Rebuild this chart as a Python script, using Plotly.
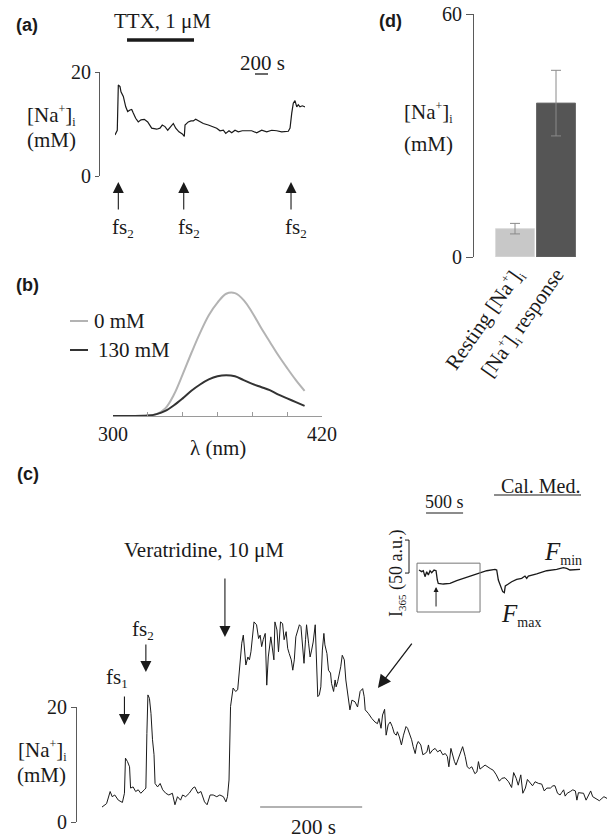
import plotly.graph_objects as go

W, H = 612, 838
def X(px): return px / W
def Y(py): return 1 - py / H

SERIF = "Liberation Serif, Times New Roman, serif"
SANS = "Liberation Sans, Arial, sans-serif"
INK = "#1a1a1a"
AXC = "#5a5a5a"

# ---------------- data ----------------
# (a) [Na+]i trace: (time s, mM)
A_TRACE = [(0,7.9),(35,8.8),(51,17.5),(77,17.2),(92,16.2),(128,15.3),(165,13.3),(195,12.4),(231,12.7),(257,12.8),
           (281,12.1),(318,11.1),(358,10.4),(400,10.8),(451,10.9),(503,10.4),(564,9.2),(641,9.0),(692,9.2),(727,9.8),
           (769,9.5),(811,8.8),(857,9.5),(897,10.1),(934,9.2),(984,8.5),(1035,8.1),(1066,7.6),(1077,9.8),(1103,10.1),
           (1127,10.4),(1169,10.6),(1204,10.6),(1241,10.9),(1281,10.6),(1358,10.1),(1435,9.8),(1496,9.5),(1564,9.2),(1615,8.7),
           (1666,8.8),(1703,8.2),(1753,8.7),(1795,8.3),(1846,8.8),(1896,8.5),(1958,8.7),(2026,8.7),(2102,8.7),(2179,8.3),
           (2256,8.8),(2333,8.5),(2410,8.8),(2487,8.7),(2564,8.5),(2665,8.6),(2692,9.2),(2718,12.1),(2742,14.0),(2768,14.5),
           (2795,13.3),(2819,13.7),(2845,13.3),(2881,13.5),(2922,13.3)]
A_STIM_TIMES = [51, 1057, 2707]
A_TTX_PERIOD = [185, 1215]
A_SCALEBAR_S = [2153, 2353]

# (b) excitation spectra
B_WAVELENGTH = [300, 310, 320, 325, 330, 335, 340, 345, 350, 355, 360, 365, 370, 375, 380, 385, 390, 395, 400, 405, 410]
B_0MM = [0, 0, 0.3, 1.5, 6, 17, 33, 50, 66, 80, 90, 97, 97.5, 92, 82, 70, 59, 48, 38, 28.5, 20]
B_130MM = [0, 0, 0.3, 1.5, 4, 8.5, 14, 20, 25, 29, 31.5, 32.3, 31.5, 28.5, 25.5, 23, 20.5, 17, 14, 11, 8]
B_NAMES = ["0 mM", "130 mM"]
B_TICKS = [300, 320, 340, 360, 380, 400, 420]
B_TICKTEXT = ["300", "", "", "", "", "", "420"]

# (c) main [Na+]i trace: (time s, mM)
C_TRACE = [(0,2.6),(9,3.2),(16,5.3),(20,4.4),(25,4.7),(32,3.8),(40,3.4),(44,5.0),(46,11.1),(50,10.5),(54,9.6),(56,5.9),
           (61,6.1),(66,5.3),(71,5.6),(76,5.0),(83,5.6),(86,5.9),(88,15.4),(90,22.1),(93,21.5),(96,18.9),(99,14.3),(102,11.7),
           (104,6.7),(109,6.1),(114,6.7),(119,5.6),(125,5.0),(131,4.7),(138,5.0),(143,3.0),(148,4.4),(154,3.8),(158,4.7),
           (164,4.4),(171,5.0),(178,5.9),(182,6.1),(188,5.0),(194,5.3),(201,3.5),(206,3.0),(212,4.7),(218,4.7),(225,4.4),
           (231,4.7),(238,4.4),(243,3.5),(246,4.4),(249,7.3),(252,20.1),(257,23.3),(262,22.7),(266,23.0),(269,25.9),
           (272,28.7),(274,31.1),(277,32.5),(279,29.9),(282,27.3),(286,28.7),(289,28.2),(292,29.6),(295,31.7),(298,34.8),
           (303,34.3),(307,31.9),(310,32.5),(313,30.5),(316,31.7),(320,32.8),(323,23.8),(326,28.7),(331,32.2),(334,30.5),
           (337,28.2),(339,34.8),(343,33.4),(346,29.6),(350,34.8),(354,34.5),(357,31.7),(361,33.1),(364,30.2),(367,29.3),
           (371,28.2),(374,26.4),(377,28.2),(380,32.2),(384,33.4),(387,34.3),(390,34.0),(394,29.3),(396,27.6),(399,31.7),
           (401,34.3),(405,31.1),(408,28.7),(411,29.9),(414,31.3),(418,34.3),(421,26.4),(423,21.8),(426,22.1),(429,23.5),
           (432,29.9),(435,32.8),(437,30.8),(441,29.3),(444,26.4),(448,25.9),(450,24.1),(454,22.7),(457,24.7),(459,23.5),
           (462,24.4),(465,25.6),(468,27.0),(471,29.0),(475,28.2),(478,24.7),(481,22.4),(484,20.9),(486,19.5),(490,21.2),
           (496,20.9),(501,20.0),(506,22.7),(511,23.2),(514,21.8),(516,19.5),(522,18.9),(529,18.0),(535,17.4),(540,17.1),
           (543,18.0),(547,16.3),(550,18.6),(554,19.6),(557,15.1),(561,16.9),(565,17.4),(569,16.6),(573,15.4),(577,15.1),
           (579,15.7),(583,14.8),(587,13.4),(591,15.1),(596,16.6),(599,16.3),(604,15.1),(607,14.3),(610,13.1),(614,11.9),
           (617,13.4),(620,14.0),(625,13.4),(629,11.7),(633,11.9),(637,12.2),(640,13.4),(643,11.9),(648,12.5),(653,12.8),
           (658,12.2),(663,12.5),(668,11.7),(673,11.9),(677,11.4),(680,9.6),(684,12.8),(688,11.4),(691,10.5),(694,9.9),
           (698,10.8),(702,11.7),(707,13.1),(712,11.4),(716,9.6),(720,9.3),(725,9.6),(728,9.0),(731,8.4),(735,8.7),
           (738,10.5),(741,9.2),(746,9.6),(751,9.9),(761,9.3),(767,9.0),(773,8.2),(779,7.1),(784,7.6),(790,7.7),
           (797,7.0),(803,6.0),(807,8.6),(812,7.6),(816,6.4),(821,8.2),(825,5.0),(830,5.9),(834,7.4),(839,6.8),
           (844,6.3),(849,7.0),(856,6.7),(862,6.6),(867,5.4),(872,5.9),(879,5.9),(884,6.3),(888,6.3),(893,5.0),
           (898,4.7),(901,5.1),(905,5.6),(908,4.5),(912,5.0),(918,5.3),(923,5.6),(928,5.4),(931,3.8),(934,5.1),
           (939,5.1),(944,5.0),(949,3.8),(954,4.7),(958,5.4),(962,4.4),(967,4.1),(971,3.9),(975,3.7),(980,4.1),
           (984,4.4),(990,4.1)]
C_FS1_T, C_FS2_T, C_VERA_T = 44, 86, 241
C_SCALEBAR_S = [310, 510]
C_POINTER = (541, 23.3)

# (c) inset: I365 fluorescence (time s, a.u.)
INSET_TRACE = [(0,63.6),(36,61.1),(58,62.6),(81,53.5),(104,61.1),(126,56.0),(149,62.6),(171,59.6),(203,63.6),(230,62.5),
               (247,48.5),(260,43.4),(328,42.4),(419,43.4),(509,47.4),(644,52.5),(779,57.6),(914,62.5),(1026,64.6),(1049,63.6),
               (1071,48.5),(1103,38.4),(1130,30.8),(1152,29.3),(1165,39.4),(1206,42.4),(1251,45.9),(1319,49.5),(1386,51.0),
               (1431,54.5),(1454,51.0),(1476,54.5),(1589,57.6),(1724,62.5),(1859,64.6),(1948,67.2),(1994,66.2),(2039,63.6),
               (2106,63.6),(2174,64.6)]
INSET_SCALEBAR_S = [95, 595]
INSET_CALMED = [1013, 2187]
INSET_BOX_T = [-27, 824]
INSET_BOX_AU = [0, 74]
INSET_SCALE_AU = [59, 109]
INSET_STIM = (230, 37.9)

def small(s, px):
    return f'<span style="font-size:{px}px">{s}</span>'

# (d) summary bars
D_CATS = [f"Resting [Na<sup>{small('+', 12)}</sup>]<sub>{small('i', 12)}</sub>",
          f"[Na<sup>{small('+', 12)}</sup>]<sub>{small('i', 12)}</sub> response"]
D_MEANS = [7.0, 38.0]
D_ERR = [1.3, 8.1]
D_COLORS = ["#c8c8c8", "#555555"]

NA = f"[Na<sup>{small('+', 12)}</sup>]<sub>{small('i', 12)}</sub>"

fig = go.Figure()

# (a)
fig.add_trace(go.Scatter(x=[p[0] for p in A_TRACE], y=[p[1] for p in A_TRACE], mode="lines",
                         line=dict(color=INK, width=1.2), xaxis="x", yaxis="y", showlegend=False))
# (b)
fig.add_trace(go.Scatter(x=B_WAVELENGTH, y=B_0MM, name=B_NAMES[0], mode="lines", line_shape="spline",
                         line=dict(color="#b3b3b3", width=2), xaxis="x2", yaxis="y2", showlegend=False))
fig.add_trace(go.Scatter(x=B_WAVELENGTH, y=B_130MM, name=B_NAMES[1], mode="lines", line_shape="spline",
                         line=dict(color="#333333", width=2), xaxis="x2", yaxis="y2", showlegend=False))
# (c) scale axis carrier
fig.add_trace(go.Scatter(x=[None], y=[None], mode="lines", xaxis="x3", yaxis="y5", showlegend=False, hoverinfo="skip"))
# (c) main
fig.add_trace(go.Scatter(x=[p[0] for p in C_TRACE], y=[p[1] for p in C_TRACE], mode="lines",
                         line=dict(color=INK, width=1), xaxis="x3", yaxis="y3", showlegend=False))
# (c) inset
fig.add_trace(go.Scatter(x=[p[0] for p in INSET_TRACE], y=[p[1] for p in INSET_TRACE], mode="lines",
                         line=dict(color=INK, width=1.3), xaxis="x4", yaxis="y4", showlegend=False))
# (d)
fig.add_trace(go.Bar(x=D_CATS, y=D_MEANS, marker=dict(color=D_COLORS, line=dict(color=["#dcdcdc", "#6a6a6a"], width=1)),
                     error_y=dict(type="data", array=D_ERR, color="#8a8a8a", thickness=1, width=5),
                     xaxis="x5", yaxis="y6", showlegend=False))

tickfont = dict(family=SERIF, size=20, color=INK)
hidden = dict(visible=False, showgrid=False, zeroline=False, automargin=False)

fig.update_layout(
    template="none",
    width=W, height=H, margin=dict(l=0, r=0, t=0, b=0, pad=0), autosize=False,
    paper_bgcolor="white", plot_bgcolor="rgba(0,0,0,0)",
    font=dict(family=SERIF, size=20, color=INK),
    bargap=0.05,
    xaxis=dict(domain=[X(115), X(305)], range=[0, 2922], anchor="y", **hidden),
    yaxis=dict(domain=[Y(176), Y(72)], range=[0, 20], anchor="free", position=X(99), automargin=False,
               showline=True, linecolor=AXC, linewidth=1, ticks="outside", ticklen=4, tickcolor=AXC,
               tickvals=[0, 20], tickfont=tickfont, showgrid=False, zeroline=False),
    xaxis2=dict(domain=[X(113), X(322)], range=[300, 420], anchor="y2", showline=True, linecolor="#9a9a9a",
                ticks="inside", ticklen=4, tickcolor="#9a9a9a", tickvals=B_TICKS, ticktext=B_TICKTEXT, automargin=False,
                tickfont=tickfont, showgrid=False, zeroline=False),
    yaxis2=dict(domain=[Y(416), Y(290)], range=[0, 100], anchor="x2", **hidden),
    xaxis3=dict(domain=[X(102), X(607)], range=[0, 990], anchor="y3", **hidden),
    yaxis3=dict(domain=[Y(822), Y(620)], range=[0, 35.13], anchor="x3", **hidden),
    yaxis5=dict(domain=[Y(822), Y(707)], range=[0, 20], anchor="free", position=X(76), automargin=False,
                showline=True, linecolor=AXC, linewidth=1, ticks="outside", ticklen=5, tickcolor=AXC,
                tickvals=[0, 20], tickfont=tickfont, showgrid=False, zeroline=False),
    xaxis4=dict(domain=[X(415), X(585)], range=[-54, 2241], anchor="y4", **hidden),
    yaxis4=dict(domain=[Y(616), Y(526)], range=[-6.06, 130.3], anchor="x4", **hidden),
    xaxis5=dict(domain=[X(494.5), X(576.5)], anchor="y6", type="category", showline=False, ticks="",
                tickangle=-55, tickfont=dict(family=SERIF, size=21, color=INK), showgrid=False, zeroline=False,
                automargin=False),
    yaxis6=dict(domain=[Y(257), Y(14)], range=[0, 60], anchor="free", position=X(473), automargin=False,
                showline=True, linecolor=AXC, linewidth=1, ticks="outside", ticklen=7, tickcolor=AXC,
                tickvals=[0, 60], tickfont=tickfont, showgrid=False, zeroline=False),
)

ann = []
def label(x_px, y_px, text, size=21, family=SERIF, **kw):
    d = dict(x=X(x_px), y=Y(y_px), xref="paper", yref="paper", text=text, showarrow=False,
             font=dict(size=size, family=family, color=INK), xanchor="center", yanchor="middle")
    d.update(kw)
    ann.append(d)

def arrow(x, xref, y, yref, ax, ay, size=2.0, width=1.1):
    ann.append(dict(x=x, xref=xref, y=y, yref=yref, ax=ax, ay=ay, text="", showarrow=True,
                    arrowhead=2, arrowsize=size, arrowwidth=width, arrowcolor=INK))

FS1 = f"fs<sub>{small('1', 13)}</sub>"
FS2 = f"fs<sub>{small('2', 13)}</sub>"

# panel letters
label(27, 25, "<b>(a)</b>", size=18, family=SANS)
label(27, 285, "<b>(b)</b>", size=18, family=SANS)
label(28, 474, "<b>(c)</b>", size=18, family=SANS)
label(390, 21, "<b>(d)</b>", size=18, family=SANS)

# (a)
label(162, 21, "TTX, 1 μM")
label(262, 63, "200 s")
label(51, 116, NA)
label(51, 140, "(mM)")
for t in A_STIM_TIMES:
    arrow(t, "x", Y(182), "paper", 0, 29)
    ann.append(dict(x=t, xref="x", y=Y(228), yref="paper", text=FS2, showarrow=False,
                    xanchor="center", yanchor="middle", xshift=5, font=dict(size=21, family=SERIF, color=INK)))

# (b)
label(92, 321, B_NAMES[0], xanchor="left")
label(96, 350, B_NAMES[1], xanchor="left")
label(218, 448, "λ (nm)")

# (c)
label(204, 550, "Veratridine, 10 μM")
label(117, 678, FS1)
label(143, 630, FS2)
arrow(C_FS1_T, "x3", Y(725), "paper", 0, -30)
arrow(C_FS2_T, "x3", Y(672), "paper", 0, -29)
arrow(C_VERA_T, "x3", Y(637), "paper", 0, -60)
arrow(C_POINTER[0], "x3", C_POINTER[1], "y3", 35, -46, size=2.0, width=1.3)
label(42, 750, NA)
label(41, 775, "(mM)")
label(313, 827, "200 s")
label(540, 486, "Cal. Med.", size=20)
label(444, 502, "500 s", size=18)
label(397, 574, f"I<sub>{small('365', 11)}</sub> (50 a.u.)", size=18, textangle=-90)
label(563, 553, f"<i>F</i><sub>{small('min', 14)}</sub>", size=25)
label(521, 615, f"<i>F</i><sub>{small('max', 14)}</sub>", size=25)
arrow(INSET_STIM[0], "x4", INSET_STIM[1], "y4", 0, 21, size=1.0, width=1.0)

# (d)
label(428, 113, NA)
label(429, 144, "(mM)")

fig.update_layout(annotations=ann)

shapes = [
    dict(type="line", xref="x", yref="paper", x0=A_TTX_PERIOD[0], x1=A_TTX_PERIOD[1], y0=Y(40), y1=Y(40),
         line=dict(color=INK, width=3.5)),
    dict(type="line", xref="x", yref="paper", x0=A_SCALEBAR_S[0], x1=A_SCALEBAR_S[1], y0=Y(74), y1=Y(74),
         line=dict(color=INK, width=1.3)),
    dict(type="line", xref="paper", yref="paper", x0=X(70), x1=X(88), y0=Y(321), y1=Y(321),
         line=dict(color="#b3b3b3", width=2)),
    dict(type="line", xref="paper", yref="paper", x0=X(70), x1=X(88), y0=Y(350), y1=Y(350),
         line=dict(color="#333333", width=2)),
    dict(type="line", xref="x3", yref="paper", x0=C_SCALEBAR_S[0], x1=C_SCALEBAR_S[1], y0=Y(807), y1=Y(807),
         line=dict(color="#666666", width=1.2)),
    dict(type="line", xref="x4", yref="paper", x0=INSET_CALMED[0], x1=INSET_CALMED[1], y0=Y(495), y1=Y(495),
         line=dict(color=INK, width=1.1)),
    dict(type="line", xref="x4", yref="paper", x0=INSET_SCALEBAR_S[0], x1=INSET_SCALEBAR_S[1], y0=Y(513), y1=Y(513),
         line=dict(color=INK, width=1.1)),
    dict(type="rect", xref="x4", yref="y4", x0=INSET_BOX_T[0], x1=INSET_BOX_T[1], y0=INSET_BOX_AU[0], y1=INSET_BOX_AU[1],
         line=dict(color="#777777", width=1)),
    dict(type="line", xref="paper", yref="y4", x0=X(409), x1=X(409), y0=INSET_SCALE_AU[0], y1=INSET_SCALE_AU[1],
         line=dict(color=INK, width=1)),
    dict(type="line", xref="paper", yref="y4", x0=X(405), x1=X(409), y0=INSET_SCALE_AU[0], y1=INSET_SCALE_AU[0],
         line=dict(color=INK, width=1)),
    dict(type="line", xref="paper", yref="y4", x0=X(405), x1=X(409), y0=INSET_SCALE_AU[1], y1=INSET_SCALE_AU[1],
         line=dict(color=INK, width=1)),
]
fig.update_layout(shapes=shapes)

fig.write_html("out.html")
